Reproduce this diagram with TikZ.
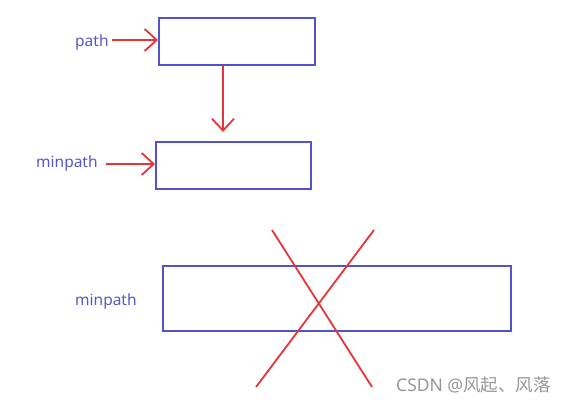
\documentclass[tikz,border=0pt]{standalone}
\usepackage{fontspec}
\setmainfont{Noto Sans}
\newfontfamily\cjk{Noto Sans CJK SC}
\usetikzlibrary{arrows.meta}
\definecolor{boxblue}{RGB}{82,82,208}
\definecolor{txtblue}{RGB}{86,86,200}
\definecolor{penred}{RGB}{232,52,56}
\definecolor{wmgray}{RGB}{150,150,150}
\tikzset{
  x=1pt, y=-1pt,
  bluebox/.style={draw=boxblue, line width=2pt, fill=white, inner sep=0pt},
  lbl/.style={text=txtblue, font=\fontsize{15.5}{18}\selectfont, inner sep=0pt, anchor=base west},
  redarrow/.style={draw=penred, line width=2pt, -{Straight Barb[length=12pt,width=22pt,line width=1.8pt]}},
  redline/.style={draw=penred, line width=1.8pt},
}
\begin{document}
\begin{tikzpicture}
\useasboundingbox (0,0) rectangle (583,404);
% boxes
\node[bluebox, minimum width=156pt, minimum height=47pt] (b1) at (237,41.5) {};
\node[bluebox, minimum width=155pt, minimum height=47pt] (b2) at (233.5,165.5) {};
\node[bluebox, minimum width=348pt, minimum height=65pt] (b3) at (337,298.5) {};
% labels
\node[lbl] (l1) at (75,46) {path};
\node[lbl] (l2) at (36,167) {minpath};
\node[lbl] (l3) at (75,305) {minpath};
% arrows
\coordinate (a1s) at (112,40);
\draw[redarrow] (a1s) -- (b1.west |- a1s);
\coordinate (a2s) at (106,164);
\draw[redarrow] (a2s) -- (b2.west |- a2s);
\coordinate (a3e) at (223,132);
\draw[redarrow] (b1.south -| a3e) -- (a3e);
% cross
\coordinate (c1) at (272,230);
\coordinate (c2) at (372,387);
\coordinate (c3) at (374,230);
\coordinate (c4) at (256,387);
\draw[redline] (c1) -- (c2);
\draw[redline] (c3) -- (c4);
% watermark
\node[text=wmgray, font=\fontsize{17.5}{20}\selectfont, inner sep=0pt, anchor=base west] (wm) at (396,391) {CSDN @{\cjk 风起、风落}};
\end{tikzpicture}
\end{document}
